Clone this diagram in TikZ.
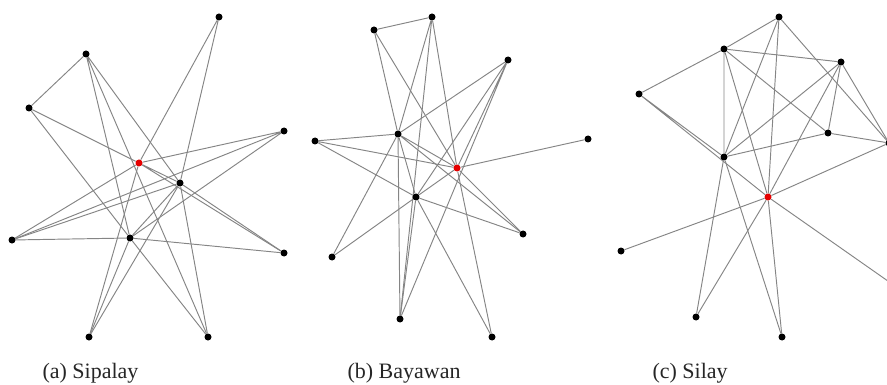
\documentclass[tikz,border=0pt]{standalone}
\usepackage{fontspec}
\setmainfont{Liberation Serif}
\usetikzlibrary{backgrounds}

\begin{document}
\begin{tikzpicture}[x=1pt, y=-1pt,
    vtx/.style={circle, fill=black, inner sep=0pt, minimum size=7pt},
    hub/.style={vtx, fill=red!90!black},
    link/.style={draw=black!48, line width=0.95pt},
    caption/.style={anchor=base west, font=\fontsize{22}{26}\selectfont, text=black!85}
  ]
    \useasboundingbox (0,0) rectangle (887,385);

    % (a) Sipalay
    \node[vtx] (a1) at (219,17) {};
    \node[vtx] (a2) at (86,54) {};
    \node[vtx] (a3) at (29,108) {};
    \node[vtx] (a4) at (284,131) {};
    \node[hub] (a0) at (139,163) {};
    \node[vtx] (a5) at (180,183) {};
    \node[vtx] (a6) at (12,240) {};
    \node[vtx] (a7) at (130,238) {};
    \node[vtx] (a8) at (284,253) {};
    \node[vtx] (a9) at (89,337) {};
    \node[vtx] (a10) at (208,337) {};
    \node[caption] (capa) at (39,378) {(a) Sipalay};

    \begin{scope}[on background layer]
      \draw[link] (a2) -- (a3) (a2) -- (a7) (a2) -- (a10) (a2) -- (a5);
      \draw[link] (a3) -- (a0) (a3) -- (a7) (a7) -- (a10);
      \draw[link] (a1) -- (a0) (a1) -- (a5);
      \draw[link] (a4) -- (a0) (a4) -- (a7) (a4) -- (a6);
      \draw[link] (a0) -- (a6) (a0) -- (a8) (a0) -- (a5) (a0) -- (a9);
      \draw[link] (a5) -- (a8) (a5) -- (a6) (a5) -- (a7) (a5) -- (a9) (a5) -- (a10);
      \draw[link] (a6) -- (a7) (a7) -- (a8) (a7) -- (a9);
    \end{scope}

    % (b) Bayawan
    \node[vtx] (b1) at (374,30) {};
    \node[vtx] (b2) at (432,17) {};
    \node[vtx] (b3) at (508,60) {};
    \node[vtx] (b4) at (398,134) {};
    \node[vtx] (b5) at (315,141) {};
    \node[vtx] (b6) at (588,139) {};
    \node[hub] (b0) at (457,168) {};
    \node[vtx] (b7) at (416,197) {};
    \node[vtx] (b8) at (523,234) {};
    \node[vtx] (b9) at (332,257) {};
    \node[vtx] (b10) at (400,319) {};
    \node[vtx] (b11) at (492,337) {};
    \node[caption] (capb) at (344,378) {(b) Bayawan};

    \begin{scope}[on background layer]
      \draw[link] (b1) -- (b2) (b1) -- (b4) (b1) -- (b0);
      \draw[link] (b2) -- (b4) (b2) -- (b10) (b2) -- (b0);
      \draw[link] (b3) -- (b4) (b3) -- (b0) (b3) -- (b7) (b3) -- (b10);
      \draw[link] (b4) -- (b5) (b4) -- (b9) (b4) -- (b10) (b4) -- (b7) (b4) -- (b0) (b4) -- (b8);
      \draw[link] (b5) -- (b0) (b5) -- (b7) (b6) -- (b0);
      \draw[link] (b0) -- (b8) (b0) -- (b11) (b0) -- (b7);
      \draw[link] (b7) -- (b9) (b7) -- (b10) (b7) -- (b11) (b7) -- (b8);
    \end{scope}

    % (c) Silay
    \node[vtx] (c1) at (779,17) {};
    \node[vtx] (c2) at (724,49) {};
    \node[vtx] (c3) at (841,62) {};
    \node[vtx] (c4) at (639,94) {};
    \node[vtx] (c5) at (828,133) {};
    \node[vtx] (c6) at (724,157) {};
    \node[hub] (c0) at (768,197) {};
    \node[vtx] (c7) at (889,143) {};
    \node[vtx] (c8) at (621,251) {};
    \node[vtx] (c9) at (696,317) {};
    \node[vtx] (c10) at (782,337) {};
    \coordinate (cout) at (915,300);
    \node[caption] (capc) at (649,378) {(c) Silay};

    \begin{scope}[on background layer]
      \draw[link] (c1) -- (c2) (c1) -- (c7) (c1) -- (c6) (c1) -- (c0);
      \draw[link] (c2) -- (c4) (c2) -- (c3) (c2) -- (c6) (c2) -- (c0) (c2) -- (c5);
      \draw[link] (c3) -- (c6) (c3) -- (c0) (c3) -- (c5) (c3) -- (c7);
      \draw[link] (c4) -- (c6) (c4) -- (c0);
      \draw[link] (c5) -- (c6) (c5) -- (c7);
      \draw[link] (c6) -- (c9) (c6) -- (c10);
      \draw[link] (c0) -- (c7) (c0) -- (c8) (c0) -- (c9) (c0) -- (c10) (c0) -- (cout);
    \end{scope}
\end{tikzpicture}
\end{document}
